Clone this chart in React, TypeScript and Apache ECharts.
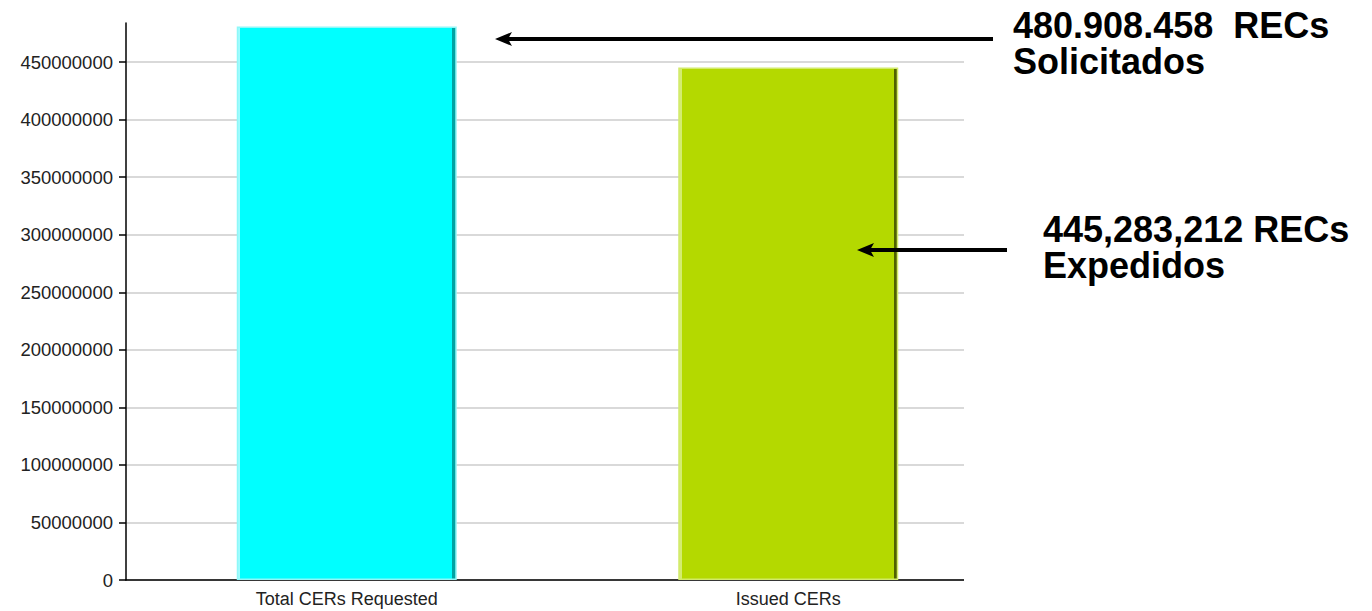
import React, { useEffect, useRef } from "react";
import * as echarts from "echarts";

// Categories and bar values
const categories = ["Total CERs Requested", "Issued CERs"];
const values = [480908458, 445283212];
// Y axis ticks (labels are drawn as plain integers)
const yTicks = [0, 50000000, 100000000, 150000000, 200000000, 250000000, 300000000, 350000000, 400000000, 450000000];
const yMax = 484000000;
// Annotation captions
const captionUnits = ["RECs", "RECs"];
const captionWords = ["Solicitados", "Expedidos"];

const FONT = '"Liberation Sans", Arial, Helvetica, sans-serif';

const groupDigits = (v: number, sep: string) =>
  String(v).replace(/\B(?=(\d{3})+(?!\d))/g, sep);

// Bevelled bar fill: light left edge, flat body, dark right edge
const bevel = (light: string, body: string, dark: string) =>
  new echarts.graphic.LinearGradient(0, 0, 1, 0, [
    { offset: 0, color: light },
    { offset: 0.012, color: light },
    { offset: 0.013, color: body },
    { offset: 0.982, color: body },
    { offset: 0.983, color: dark },
    { offset: 1, color: dark },
  ]);

const barStyles = [
  { color: bevel("#9ffcff", "#00ffff", "#00a3a3"), borderColor: "#8ff8f8" },
  { color: bevel("#d4ec70", "#b4d900", "#4f6000"), borderColor: "#d2ea6a" },
];

// Left-pointing arrow: shaft plus a stealth-style head
const arrow = (tipX: number, tailX: number, y: number) => [
  {
    type: "line",
    z: 20,
    shape: { x1: tipX + 12, y1: y, x2: tailX, y2: y },
    style: { stroke: "#000", lineWidth: 4 },
  },
  {
    type: "polygon",
    z: 20,
    shape: {
      points: [
        [tipX, y],
        [tipX + 17, y - 7],
        [tipX + 13, y],
        [tipX + 17, y + 7],
      ],
    },
    style: { fill: "#000" },
  },
];

const captionStyle = {
  fill: "#000",
  fontSize: 36,
  fontWeight: "bold",
  fontFamily: FONT,
  lineHeight: 36.5,
  verticalAlign: "top",
  align: "left",
};

export default function App() {
  const ref = useRef<HTMLDivElement>(null);

  useEffect(() => {
    if (!ref.current) return;
    const chart = echarts.init(ref.current, null, { renderer: "svg" });

    const option: any = {
      animation: false,
      backgroundColor: "#ffffff",
      grid: { left: 126, right: 363, top: 23, bottom: 31, containLabel: false },
      xAxis: {
        type: "category",
        data: categories,
        boundaryGap: true,
        axisLine: { lineStyle: { color: "#000", width: 1.5 } },
        axisTick: { alignWithLabel: true, length: 8, lineStyle: { color: "#000", width: 1.5 } },
        axisLabel: { color: "#222", fontSize: 18, fontFamily: FONT, margin: 10 },
        splitLine: { show: false },
      },
      yAxis: {
        type: "value",
        min: 0,
        max: yMax,
        interval: 50000000,
        axisLine: { show: true, lineStyle: { color: "#000", width: 1.5 } },
        axisTick: {
          show: true,
          length: 7,
          customValues: yTicks,
          lineStyle: { color: "#000", width: 1.5 },
        },
        axisLabel: {
          color: "#222",
          fontSize: 18.5,
          fontFamily: FONT,
          margin: 13,
          customValues: yTicks,
          formatter: (v: number) => String(v),
        },
        splitLine: {
          show: true,
          lineStyle: { color: "#cccccc", width: 1.5 },
        },
      },
      series: [
        {
          type: "bar",
          barWidth: 220,
          data: values.map((v, i) => ({
            value: v,
            itemStyle: {
              color: barStyles[i].color,
              borderColor: barStyles[i].borderColor,
              borderWidth: 1.5,
            },
          })),
        },
      ],
      graphic: [
        // trims the axis line and grid lines at the plot's right edge
        {
          type: "rect",
          z: 10,
          shape: { x: 964, y: 18, width: 48, height: 572 },
          style: { fill: "#ffffff" },
        },
        ...arrow(495, 993, 39),
        ...arrow(857, 1007, 250),
        {
          type: "text",
          z: 20,
          x: 1013,
          y: 7,
          style: {
            ...captionStyle,
            text: `${groupDigits(values[0], ".")}  ${captionUnits[0]}\n${captionWords[0]}`,
          },
        },
        {
          type: "text",
          z: 20,
          x: 1043,
          y: 211,
          style: {
            ...captionStyle,
            text: `${groupDigits(values[1], ",")} ${captionUnits[1]}\n${captionWords[1]}`,
          },
        },
      ],
    };

    chart.setOption(option);
    return () => chart.dispose();
  }, []);

  return (
    <div
      ref={ref}
      style={{ position: "fixed", left: 0, top: 0, width: 1372, height: 611, background: "#fff" }}
    />
  );
}
